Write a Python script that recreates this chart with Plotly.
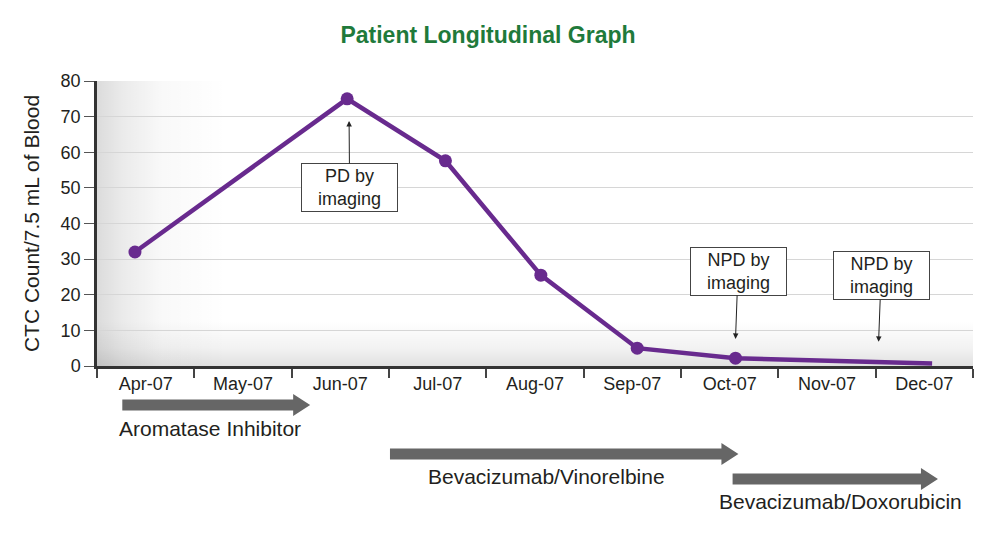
import base64
import plotly.graph_objects as go

# ---- data ----
month_labels = ["Apr-07", "May-07", "Jun-07", "Jul-07", "Aug-07", "Sep-07", "Oct-07", "Nov-07", "Dec-07"]
# observation positions in month units (Apr-07 = 0) and CTC counts
obs_x = [-0.11, 2.07, 3.08, 4.06, 5.05, 6.06, 8.08]
obs_ctc = [32, 75, 57.6, 25.5, 5, 2.2, 0.7]
obs_marker = [True, True, True, True, True, True, False]

note_text = ["PD by<br>imaging", "NPD by<br>imaging", "NPD by<br>imaging"]
note_x = [2.09, 6.06, 7.53]
note_y = [68.8, 7.6, 6.8]

treat_names = ["Aromatase Inhibitor", "Bevacizumab/Vinorelbine", "Bevacizumab/Doxorubicin"]
treat_start = [-0.24, 2.51, 6.03]
treat_end = [1.69, 6.09, 8.14]
treat_label_x = [0.66, 4.12, 7.14]

# ---- layout constants (pixels, page coordinates; page body has an 8px margin) ----
OFF = 8
W, H = 1000 - OFF, 541 - OFF
L, R, T, B = 97 - OFF, 27, 81 - OFF, 175
plot_w = W - L - R
plot_h = H - T - B
PLOT_BOTTOM_PAGE = 366
PURPLE = "#682a8e"
TXT = "#231f20"
FONT = "Liberation Sans, Arial, sans-serif"


def ypaper(ypx):
    return (PLOT_BOTTOM_PAGE - ypx) / plot_h


# soft gray vignette (left and bottom edges of the plot area) as an SVG gradient image
svg = f"""<svg xmlns="http://www.w3.org/2000/svg" width="{plot_w}" height="{plot_h}" viewBox="0 0 {plot_w} {plot_h}" preserveAspectRatio="none">
<defs>
<linearGradient id="gl" x1="0" y1="0" x2="1" y2="0">
<stop offset="0" stop-color="#000" stop-opacity="0.14"/>
<stop offset="0.2" stop-color="#000" stop-opacity="0.08"/>
<stop offset="0.5" stop-color="#000" stop-opacity="0.025"/>
<stop offset="1" stop-color="#000" stop-opacity="0"/>
</linearGradient>
<linearGradient id="gb" x1="0" y1="1" x2="0" y2="0">
<stop offset="0" stop-color="#000" stop-opacity="0.12"/>
<stop offset="0.4" stop-color="#000" stop-opacity="0.05"/>
<stop offset="1" stop-color="#000" stop-opacity="0"/>
</linearGradient>
</defs>
<rect x="0" y="0" width="130" height="{plot_h}" fill="url(#gl)"/>
<rect x="0" y="{plot_h - 45}" width="{plot_w}" height="45" fill="url(#gb)"/>
</svg>"""
svg_uri = "data:image/svg+xml;base64," + base64.b64encode(svg.encode()).decode()

fig = go.Figure()
fig.add_trace(go.Scatter(
    x=obs_x, y=obs_ctc, mode="lines+markers",
    line=dict(color=PURPLE, width=4.5),
    marker=dict(color=PURPLE, size=[13 if m else 0 for m in obs_marker], line=dict(width=0),
                opacity=1),
    hoverinfo="skip", showlegend=False,
))

shapes = []
# treatment arrows
row_px = [405, 454, 479]
label_px = [428, 477, 501]
head_len = 17 / (plot_w / 9)
for i, name in enumerate(treat_names):
    yc = ypaper(row_px[i])
    hs = 5.5 / plot_h
    hh = 11 / plot_h
    x0, x1 = treat_start[i], treat_end[i]
    xh = x1 - head_len
    path = (f"M {x0},{yc - hs} L {xh},{yc - hs} L {xh},{yc - hh} L {x1},{yc} "
            f"L {xh},{yc + hh} L {xh},{yc + hs} L {x0},{yc + hs} Z")
    shapes.append(dict(type="path", xref="x", yref="paper", path=path,
                       fillcolor="#666666", line=dict(width=0), layer="above"))

annotations = []
for i, name in enumerate(treat_names):
    annotations.append(dict(x=treat_label_x[i], y=ypaper(label_px[i]), xref="x", yref="paper",
                            text=name, showarrow=False, xanchor="center", yanchor="middle",
                            font=dict(family=FONT, size=21, color=TXT)))

note_ax = [0.5, 2.5, 2.5]
note_ay = [66.5, -67.5, -66]
for i, t in enumerate(note_text):
    annotations.append(dict(x=note_x[i], y=note_y[i], xref="x", yref="y", text=t,
                            showarrow=True, ax=note_ax[i], ay=note_ay[i],
                            arrowhead=2, arrowsize=1.1, arrowwidth=1, arrowcolor="#222222",
                            standoff=0,
                            bgcolor="white", bordercolor="#444444", borderwidth=1, borderpad=2,
                            width=91, height=43,
                            font=dict(family=FONT, size=18, color=TXT)))

fig.update_layout(
    width=W, height=H,
    margin=dict(l=L, r=R, t=T, b=B, autoexpand=False),
    paper_bgcolor="white", plot_bgcolor="white",
    title=dict(text="<b>Patient Longitudinal Graph</b>", x=(488 - OFF) / W, xref="container",
               y=1 - (35 - OFF) / H, yref="container", xanchor="center", yanchor="middle",
               font=dict(family=FONT, size=23, color="#1f7a3b")),
    shapes=shapes, annotations=annotations,
    images=[dict(source=svg_uri, xref="x domain", yref="y domain", x=0, y=1,
                 sizex=1, sizey=1, xanchor="left", yanchor="top", sizing="stretch",
                 layer="below")],
    font=dict(family=FONT, color=TXT),
)
fig.update_xaxes(
    range=[-0.5, 8.5], tickmode="array", tickvals=list(range(len(month_labels))),
    ticktext=month_labels, ticks="", showgrid=False, zeroline=False,
    showline=True, linecolor="#333333", linewidth=2.5,
    tickfont=dict(family=FONT, size=18, color=TXT),
    minor=dict(tickmode="array", tickvals=[i - 0.5 for i in range(len(month_labels) + 1)],
               ticks="outside", ticklen=9, tickcolor="#444444", tickwidth=1.5, showgrid=False),
)
fig.update_yaxes(
    range=[0, 80], dtick=10, tick0=0, showgrid=True, gridcolor="#d6d6d6", gridwidth=1,
    zeroline=False, showline=True, linecolor="#333333", linewidth=2.5,
    ticks="outside", ticklen=10, tickcolor="#555555", tickwidth=1.2,
    tickfont=dict(family=FONT, size=18, color=TXT),
    title=dict(text="CTC Count/7.5 mL of Blood", standoff=16,
               font=dict(family=FONT, size=21, color=TXT)),
)

fig.write_html("out.html")
